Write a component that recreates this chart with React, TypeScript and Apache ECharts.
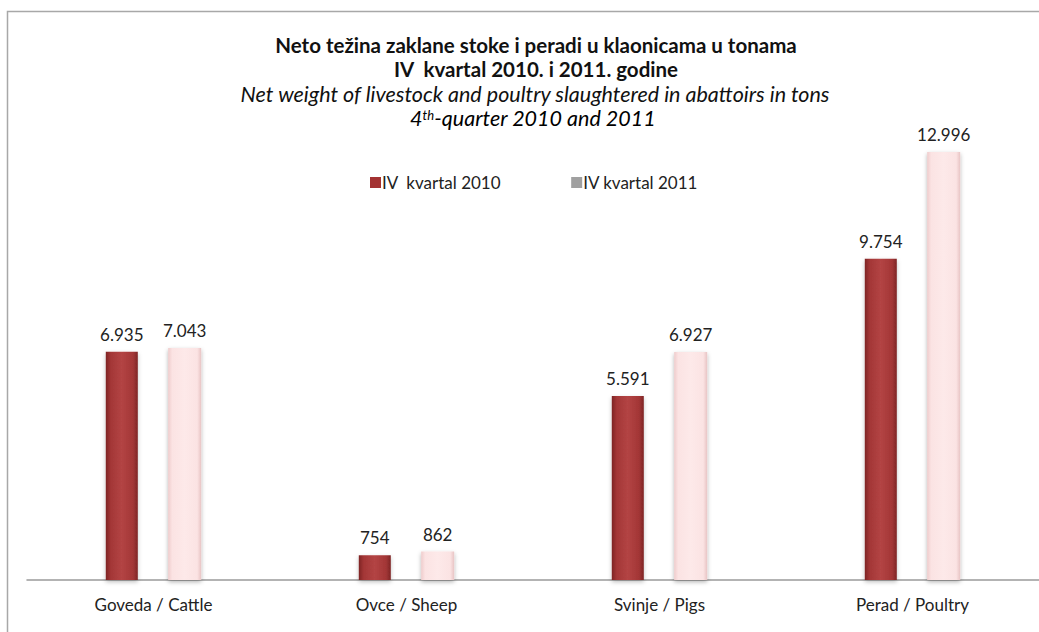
import React, { useEffect, useRef } from "react";
import * as echarts from "echarts";

const categories = ["Goveda / Cattle", "Ovce / Sheep", "Svinje / Pigs", "Perad / Poultry"];
const seriesNames = ["IV  kvartal 2010", "IV kvartal 2011"];
const values2010 = [6935, 754, 5591, 9754];
const values2011 = [7043, 862, 6927, 12996];
const titleLines = [
  "Neto težina zaklane stoke i peradi u klaonicama u tonama",
  "IV  kvartal 2010. i 2011. godine",
  "Net weight of livestock and poultry slaughtered in abattoirs in tons",
];

const FONT = "Lato, 'Open Sans', sans-serif";

function fmt(v: number): string {
  return String(v).replace(/\B(?=(\d{3})+(?!\d))/g, ".");
}

export default function App() {
  const ref = useRef<HTMLDivElement>(null);
  useEffect(() => {
    document.body.style.margin = "0";
    document.body.style.overflow = "hidden";
    document.documentElement.style.overflow = "hidden";
    if (!ref.current) return;
    const chart = echarts.init(ref.current, null, { renderer: "svg" });
    const redGrad = new echarts.graphic.LinearGradient(0, 0, 1, 0, [
      { offset: 0, color: "#7e2424" },
      { offset: 0.15, color: "#a33636" },
      { offset: 0.5, color: "#b34444" },
      { offset: 0.85, color: "#a33636" },
      { offset: 1, color: "#7e2424" },
    ]);
    const pinkGrad = new echarts.graphic.LinearGradient(0, 0, 1, 0, [
      { offset: 0, color: "#efcccc" },
      { offset: 0.12, color: "#fbe3e3" },
      { offset: 0.5, color: "#fde9e9" },
      { offset: 0.88, color: "#fbe3e3" },
      { offset: 1, color: "#e8c4c4" },
    ]);
    const label = {
      show: true,
      position: "top" as const,
      distance: 9,
      color: "#222",
      fontSize: 17,
      fontFamily: FONT,
      formatter: (p: any) => fmt(p.value),
    };
    chart.setOption({
      animation: false,
      backgroundColor: "#ffffff",
      graphic: [
        {
          type: "rect",
          shape: { x: 7.5, y: 11.5, width: 1060, height: 660 },
          style: { fill: "none", stroke: "#a8a8a8", lineWidth: 1.5 },
          silent: true,
          z: -1,
        },
        {
          type: "text",
          x: 536,
          y: 45,
          style: { text: titleLines[0], fontFamily: FONT, fontWeight: "bold", fontSize: 20.5, lineHeight: 20, fill: "#111", align: "center", verticalAlign: "middle" },
        },
        {
          type: "text",
          x: 536,
          y: 69,
          style: { text: titleLines[1], fontFamily: FONT, fontWeight: "bold", fontSize: 20.5, lineHeight: 20, fill: "#111", align: "center", verticalAlign: "middle" },
        },
        {
          type: "text",
          x: 535,
          y: 94,
          style: { text: titleLines[2], fontFamily: FONT, fontStyle: "italic", fontSize: 21.5, lineHeight: 20, fill: "#111", align: "center", verticalAlign: "middle" },
        },
        {
          type: "text",
          x: 533,
          y: 118,
          style: {
            text: "{a|4}{s|th}{a|-quarter 2010 and 2011}",
            align: "center",
            verticalAlign: "middle",
            rich: {
              a: { fontFamily: FONT, fontStyle: "italic", fontSize: 21.5, lineHeight: 20, color: "#111" },
              s: { fontFamily: FONT, fontStyle: "italic", fontSize: 13, lineHeight: 13, color: "#111", verticalAlign: "top", padding: [0, 0, 7, 0] },
            },
          },
        },
      ],
      legend: {
        left: 365,
        top: 169,
        itemWidth: 11,
        itemHeight: 11,
        itemGap: 70,
        icon: "rect",
        textStyle: { fontFamily: FONT, fontSize: 17, color: "#222", padding: [0, 0, 0, -4] },
        data: [
          { name: seriesNames[0], itemStyle: { color: "#a33232" } },
          { name: seriesNames[1], itemStyle: { color: "#a0a0a0" } },
        ],
      },
      grid: { left: 27, right: 0, top: 119, bottom: 52, containLabel: false },
      xAxis: {
        type: "category",
        data: categories,
        axisLine: { lineStyle: { color: "#9a9a9a", width: 1.5 } },
        axisTick: { show: false },
        axisLabel: { fontFamily: FONT, fontSize: 17, color: "#222", margin: 16 },
      },
      yAxis: {
        type: "value",
        min: 0,
        max: 14000,
        show: false,
        splitLine: { show: false },
      },
      series: [
        {
          name: seriesNames[0],
          type: "bar",
          data: values2010,
          barWidth: 32,
          barGap: "95%",
          itemStyle: { color: redGrad, shadowColor: "rgba(0,0,0,0.25)", shadowBlur: 4, shadowOffsetY: 2 },
          label,
        },
        {
          name: seriesNames[1],
          type: "bar",
          data: values2011,
          barWidth: 33,
          itemStyle: { color: pinkGrad, shadowColor: "rgba(0,0,0,0.3)", shadowBlur: 4, shadowOffsetY: 2 },
          label,
        },
      ],
    });
    return () => chart.dispose();
  }, []);
  return <div ref={ref} style={{ width: 1039, height: 632 }} />;
}
